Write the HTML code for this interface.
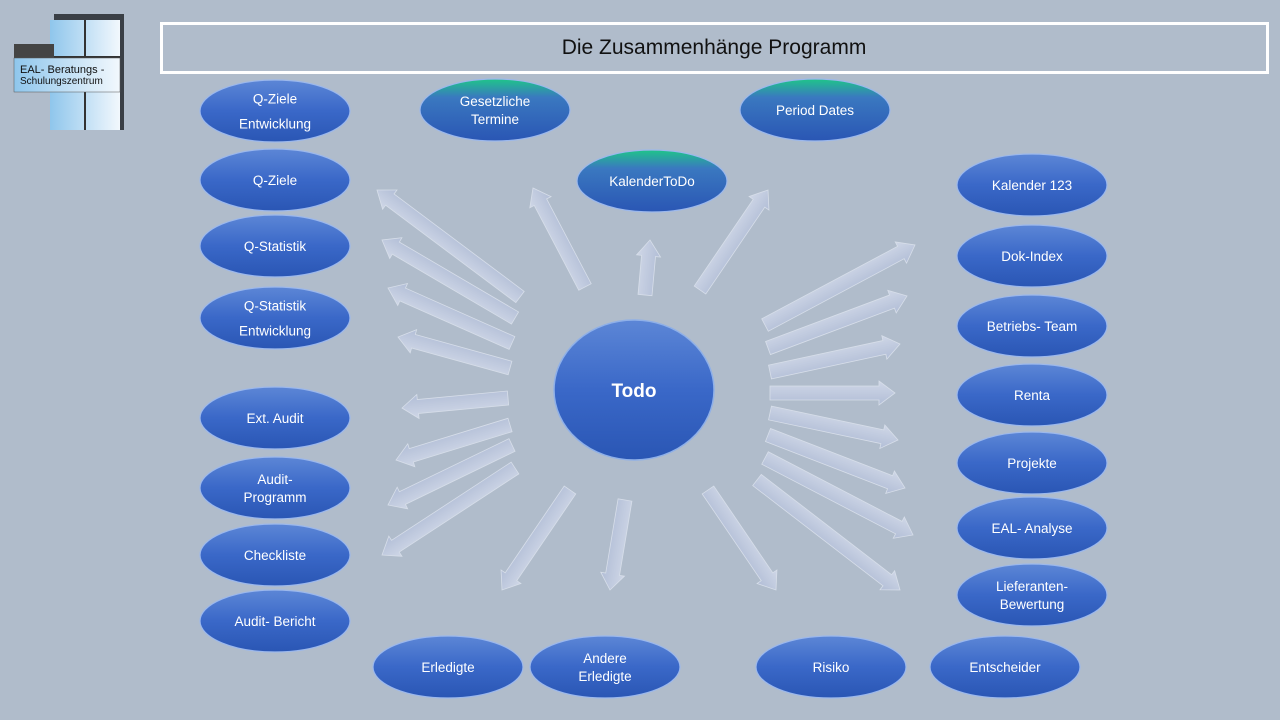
<!DOCTYPE html>
<html><head><meta charset="utf-8"><style>
html,body{margin:0;padding:0;background:#b0bccb;}
svg{display:block;font-family:"Liberation Sans",sans-serif;}
</style></head><body>
<svg id="s" width="1280" height="720" viewBox="0 0 1280 720" xmlns="http://www.w3.org/2000/svg">
<defs>
<linearGradient id="bl" x1="0" y1="0" x2="0" y2="1">
<stop offset="0" stop-color="#5c86d6"/><stop offset="0.5" stop-color="#3a68c8"/><stop offset="1" stop-color="#2a56b4"/></linearGradient>
<linearGradient id="gr" x1="0" y1="0" x2="0" y2="1">
<stop offset="0" stop-color="#1fc48a"/><stop offset="0.3" stop-color="#3a78c0"/><stop offset="1" stop-color="#2a56b4"/></linearGradient>
<linearGradient id="ar" x1="0" y1="0" x2="0" y2="1">
<stop offset="0" stop-color="#dde3f3"/><stop offset="1" stop-color="#b3bfdc"/></linearGradient>
<linearGradient id="lg" x1="0" y1="0" x2="1" y2="0">
<stop offset="0" stop-color="#8fc6ec"/><stop offset="1" stop-color="#f2f8fd"/></linearGradient>
</defs>
<rect width="1280" height="720" fill="#b0bccb"/>
<!-- logo -->
<rect x="54" y="14" width="70" height="116" fill="#3a3f46"/>
<rect x="50" y="20" width="70" height="110" fill="url(#lg)"/>
<rect x="84" y="20" width="2" height="110" fill="#333"/>
<rect x="50" y="56" width="70" height="2" fill="#333"/>
<rect x="14" y="44" width="40" height="16" fill="#444"/>
<rect x="14" y="58" width="106" height="34" fill="url(#lg)" stroke="#555" stroke-width="0.5"/>
<text x="20" y="73" font-size="11" fill="#111">EAL- Beratungs -</text>
<text x="20" y="84" font-size="10" fill="#111">Schulungszentrum</text>
<!-- title -->
<rect x="161.5" y="23.5" width="1106" height="49" fill="none" stroke="#fff" stroke-width="3"/>
<text x="714" y="54" font-size="21" fill="#111" text-anchor="middle">Die Zusammenhänge Programm</text>
<g id="arrows"></g>
<g id="nodes"></g>
<ellipse cx="634" cy="390" rx="80" ry="70" fill="url(#bl)" stroke="#8fb0e8" stroke-width="1.5"/>
<text x="634" y="397" font-size="19" font-weight="bold" fill="#fff" text-anchor="middle">Todo</text>
</svg>
<script>
var NS="http://www.w3.org/2000/svg";
var A=[[520,297,377,190],[515,318,382,240],[512,343,388,288],[510,368,398,337],[508,398,402,408],[510,425,396,460],[512,445,388,505],[515,468,382,555],
[585,287,533,188],[645,295,650,240],[700,290,768,190],
[765,325,915,245],[768,348,907,296],[770,372,900,344],[770,393,895,393],[770,413,898,440],[768,435,905,488],[765,458,913,535],[757,480,900,590],
[570,490,502,590],[625,500,610,590],[708,490,776,590]];
var g=document.getElementById('arrows');
A.forEach(function(a){
 var dx=a[2]-a[0],dy=a[3]-a[1],L=Math.hypot(dx,dy),ang=Math.atan2(dy,dx)*180/Math.PI;
 var w=7,h=12,hl=16;
 var p=document.createElementNS(NS,'polygon');
 p.setAttribute('points',[[0,-w],[L-hl,-w],[L-hl,-h],[L,0],[L-hl,h],[L-hl,w],[0,w]].map(function(q){return q.join(',')}).join(' '));
 p.setAttribute('fill','url(#ar)');p.setAttribute('stroke','#e8edf7');p.setAttribute('stroke-width','0.8');p.setAttribute('opacity','0.7');
 p.setAttribute('transform','translate('+a[0]+','+a[1]+') rotate('+ang+')');
 g.appendChild(p);
});
var N=[[275,111,['Q-Ziele','Entwicklung'],0,25],[275,180,['Q-Ziele']],[275,246,['Q-Statistik']],[275,318,['Q-Statistik','Entwicklung'],0,25],
[275,418,['Ext. Audit']],[275,488,['Audit-','Programm']],[275,555,['Checkliste']],[275,621,['Audit- Bericht']],
[495,110,['Gesetzliche','Termine'],1],[815,110,['Period Dates'],1],[652,181,['KalenderToDo'],1],
[1032,185,['Kalender 123']],[1032,256,['Dok-Index']],[1032,326,['Betriebs- Team']],[1032,395,['Renta']],[1032,463,['Projekte']],[1032,528,['EAL- Analyse']],[1032,595,['Lieferanten-','Bewertung']],
[448,667,['Erledigte']],[605,667,['Andere','Erledigte']],[831,667,['Risiko']],[1005,667,['Entscheider']]];
var ng=document.getElementById('nodes');
N.forEach(function(n){
 var e=document.createElementNS(NS,'ellipse');
 e.setAttribute('cx',n[0]);e.setAttribute('cy',n[1]);e.setAttribute('rx',75);e.setAttribute('ry',31);
 e.setAttribute('fill',n[3]?'url(#gr)':'url(#bl)');e.setAttribute('stroke','#9cb8ec');e.setAttribute('stroke-width','1.2');
 ng.appendChild(e);
 var lines=n[2],lh=n[4]||18,y0=n[1]+5-(lines.length-1)*lh/2;
 lines.forEach(function(t,i){
  var tx=document.createElementNS(NS,'text');
  tx.setAttribute('x',n[0]);tx.setAttribute('y',y0+i*lh);tx.setAttribute('font-size','13.5');
  tx.setAttribute('fill','#fff');tx.setAttribute('text-anchor','middle');tx.textContent=t;ng.appendChild(tx);
 });
});
</script>
</body></html>
